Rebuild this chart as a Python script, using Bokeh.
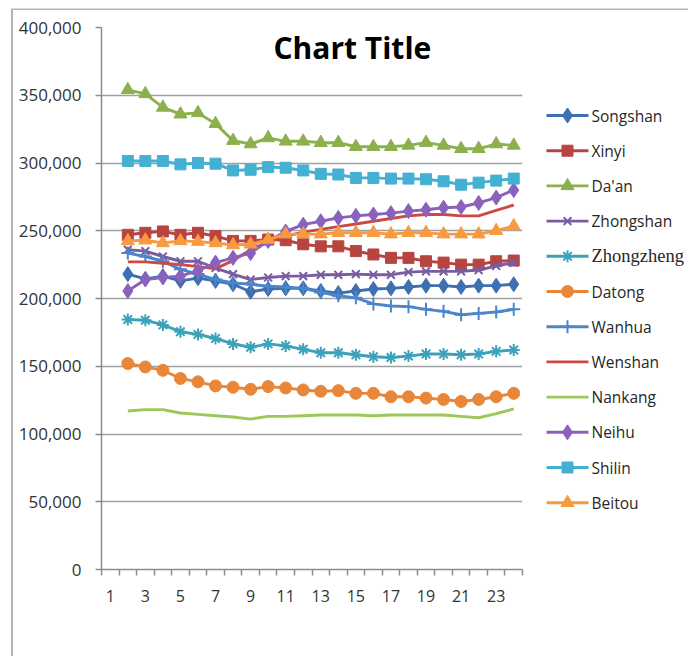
from bokeh.plotting import figure
from bokeh.models import Range1d, FixedTicker, NumeralTickFormatter, Label
from bokeh.layouts import row
from bokeh.embed import file_html
from bokeh.resources import INLINE
from bokeh.core.properties import value

# ---------------- data ----------------
periods = [2, 3, 4, 5, 6, 7, 8, 9, 10, 11, 12, 13, 14, 15, 16, 17, 18, 19, 20, 21, 22, 23, 24]
x_tick_labels = [1, 3, 5, 7, 9, 11, 13, 15, 17, 19, 21, 23]
y_ticks = [0, 50000, 100000, 150000, 200000, 250000, 300000, 350000, 400000]

songshan = [218000, 214500, 216500, 213000, 215000, 213000, 210500, 205000, 207000, 207500, 207500, 205500,
            204000, 205500, 207000, 207500, 208500, 209500, 209500, 208500, 209500, 209500, 210500]
xinyi = [247000, 248500, 249500, 247000, 248500, 246000, 242500, 242500, 243500, 243000, 240000, 238500,
         238500, 235000, 232500, 230000, 230000, 227500, 226500, 225000, 225000, 227500, 228000]
daan = [354000, 351000, 341000, 336000, 337000, 329000, 316500, 314000, 318500, 316000, 316000, 315000,
        315000, 312000, 312000, 312000, 313000, 315000, 313000, 310500, 310500, 314000, 313000]
zhongshan = [236000, 235000, 231000, 227500, 227500, 222500, 218000, 214000, 215500, 216500, 216500, 217500,
             217500, 218000, 217500, 217500, 219500, 220000, 220000, 220000, 221000, 224000, 226500]
zhongzheng = [184500, 184000, 180500, 175500, 173500, 170500, 166500, 164000, 166500, 165000, 162500, 160000,
              160000, 158500, 157000, 156500, 157500, 159000, 159000, 158500, 159000, 161000, 162000]
datong = [152000, 149500, 147000, 141000, 138500, 135500, 134500, 133000, 135000, 134000, 132500, 131500,
          132000, 130000, 130000, 127500, 127500, 126500, 125500, 124000, 125500, 127500, 130000]
wanhua = [233500, 231000, 227500, 221500, 218000, 214000, 211500, 210500, 209000, 208500, 207500, 204500,
          202000, 200500, 196000, 194500, 194000, 192000, 190500, 188000, 189000, 190000, 192000]
wenshan = [227000, 227000, 226000, 225000, 223500, 222000, 228000, 236000, 242000, 246000, 249000, 251000,
           253000, 255000, 257000, 259000, 261000, 262000, 262000, 261000, 261000, 265000, 269000]
nankang = [117000, 118000, 118000, 115500, 114500, 113500, 112500, 111000, 113000, 113000, 113500, 114000,
           114000, 114000, 113500, 114000, 114000, 114000, 114000, 113000, 112000, 115000, 118500]
neihu = [205500, 214000, 215500, 216500, 220500, 226500, 230000, 233500, 242500, 249500, 254500, 257000,
         259500, 261000, 262000, 263000, 264500, 265500, 267000, 267500, 270500, 274500, 280000]
shilin = [301500, 301500, 301500, 299000, 300000, 299500, 294500, 295000, 297000, 296500, 294500, 292000,
          291500, 289000, 289000, 288500, 288500, 288000, 286500, 284000, 285500, 287000, 288500]
beitou = [242500, 243000, 241000, 242500, 242000, 241000, 239500, 240000, 243500, 247500, 247500, 247500,
          248500, 248500, 248500, 247500, 248500, 248500, 247500, 247500, 247500, 250000, 253500]

names = ["Songshan", "Xinyi", "Da'an", "Zhongshan", "Zhongzheng", "Datong",
         "Wanhua", "Wenshan", "Nankang", "Neihu", "Shilin", "Beitou"]
values = [songshan, xinyi, daan, zhongshan, zhongzheng, datong,
          wanhua, wenshan, nankang, neihu, shilin, beitou]
colors = ["#3E6FB0", "#B84440", "#8BB04C", "#7A5CA0", "#3CA2BA", "#E8873A",
          "#4A86CC", "#CC4A44", "#9CC85A", "#8A62BC", "#44B0D2", "#F79A40"]
markers = ["diamond", "square", "triangle", "x", "asterisk", "circle",
           "cross", None, None, "diamond", "square", "triangle"]
msizes = [15, 11, 13, 11, 12, 12, 13, 0, 0, 15, 11, 13]
label_fonts = ["Open Sans"] * 12
label_fonts[4] = "Liberation Serif"
label_sizes = ["15.5px"] * 12
label_sizes[4] = "18.5px"

FONT = "Open Sans"
AXIS_COLOR = "#8c8c8c"
H = 656
TOP, BOTTOM = 27, 569

# ---------------- main chart ----------------
p = figure(width=538, height=H, output_backend="svg", toolbar_location=None,
           x_range=Range1d(0.5, 24.5), y_range=Range1d(0, 400000),
           min_border_left=101, min_border_right=16, min_border_top=TOP, min_border_bottom=H - BOTTOM)
p.title.visible = False
p.border_fill_alpha = 0
p.outline_line_color = None

p.xaxis.ticker = FixedTicker(ticks=x_tick_labels,
                             minor_ticks=[t - 0.5 for t in range(1, 26)])
p.xaxis.major_tick_out = 0
p.xaxis.major_tick_in = 0
p.xaxis.minor_tick_out = 6
p.xaxis.minor_tick_in = 0
p.xaxis.minor_tick_line_color = AXIS_COLOR
p.xaxis.minor_tick_line_width = 1.5
p.xaxis.axis_line_color = AXIS_COLOR
p.xaxis.axis_line_width = 1.5
p.xaxis.major_label_standoff = 14
p.xaxis.major_label_text_font_size = "16px"

p.yaxis.ticker = FixedTicker(ticks=y_ticks)
p.yaxis.formatter = NumeralTickFormatter(format="0,0")
p.yaxis.major_tick_out = 6
p.yaxis.major_tick_in = 0
p.yaxis.minor_tick_out = 0
p.yaxis.minor_tick_in = 0
p.yaxis.major_tick_line_color = AXIS_COLOR
p.yaxis.major_tick_line_width = 1.5
p.yaxis.axis_line_color = AXIS_COLOR
p.yaxis.axis_line_width = 1.5
p.yaxis.major_label_standoff = 14
p.yaxis.major_label_text_font_size = "17px"

for ax in (p.xaxis, p.yaxis):
    ax.major_label_text_font = FONT
    ax.major_label_text_color = "#333333"

p.xgrid.visible = False
p.ygrid.grid_line_color = "#a0a0a0"
p.ygrid.grid_line_width = 1.5

for name, vals, col, mk, ms in zip(names, values, colors, markers, msizes):
    p.line(periods, vals, line_color=col, line_width=2.9)
    if mk:
        lw = 2 if mk in ("x", "asterisk", "cross") else 1
        p.scatter(periods, vals, marker=mk, size=ms, fill_color=col, line_color=col, line_width=lw)

p.add_layout(Label(x=14.8, y=385500, text="Chart Title", text_font=FONT, text_font_style="bold",
                   text_font_size="30px", text_align="center", text_baseline="middle",
                   text_color="#000000"))

# ---------------- legend panel (coordinates = page pixels) ----------------
LW = 150
leg = figure(width=LW, height=H, output_backend="svg", toolbar_location=None,
             x_range=Range1d(538, 538 + LW), y_range=Range1d(BOTTOM, TOP),
             x_axis_type=None, y_axis_type=None,
             min_border_left=0, min_border_right=0, min_border_top=TOP, min_border_bottom=H - BOTTOM)
leg.title.visible = False
leg.outline_line_color = None
leg.border_fill_alpha = 0
leg.background_fill_alpha = 0
leg.grid.visible = False

for i, (name, col, mk, ms, fnt, fs) in enumerate(zip(names, colors, markers, msizes, label_fonts, label_sizes)):
    yy = 115 + 35.2 * i
    leg.line([546, 588], [yy, yy], line_color=col, line_width=2.9)
    if mk:
        lw = 2 if mk in ("x", "asterisk", "cross") else 1
        leg.scatter([567], [yy], marker=mk, size=ms, fill_color=col, line_color=col, line_width=lw)
    leg.text([591], [yy], text=[name], text_font=value(fnt), text_font_size=fs,
             text_baseline="middle", text_align="left", text_color="#262626")

layout = row(p, leg, styles={"box-shadow": "inset 11px 8.5px 0 0 #ffffff, inset 13px 10px 0 0 #b4b4b4"})

open("out.html", "w").write(file_html(layout, INLINE))
